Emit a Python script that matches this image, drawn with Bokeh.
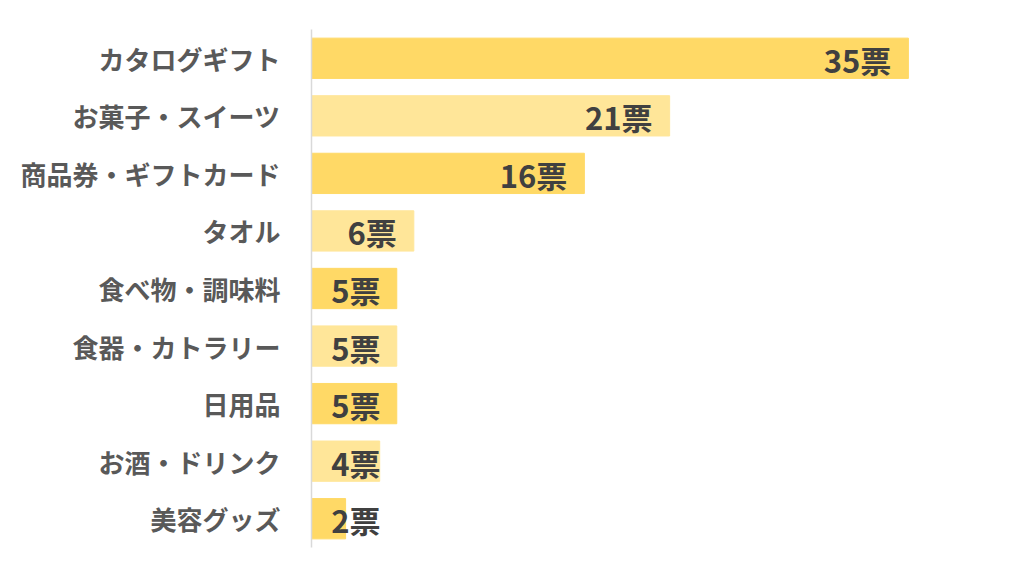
from bokeh.plotting import figure
from bokeh.models import ColumnDataSource, FactorRange, Range1d
from bokeh.core.properties import value
from bokeh.embed import file_html
from bokeh.resources import INLINE

categories = ["カタログギフト", "お菓子・スイーツ", "商品券・ギフトカード", "タオル",
              "食べ物・調味料", "食器・カトラリー", "日用品", "お酒・ドリンク", "美容グッズ"]
votes = [35, 21, 16, 6, 5, 5, 5, 4, 2]
bar_colors = ["#FFD966", "#FFE699"]

colors = [bar_colors[i % 2] for i in range(len(categories))]
labels = [f"{v}票" for v in votes]
label_x = [max(v - 1, 4.05) for v in votes]

src = ColumnDataSource(dict(cat=categories, v=votes, color=colors, lab=labels, lx=label_x))

p = figure(width=1024, height=574, output_backend="svg", toolbar_location=None,
           y_range=FactorRange(*reversed(categories), range_padding=0, factor_padding=0),
           x_range=Range1d(0, 40.4),
           min_border_left=311, min_border_right=24, min_border_top=29, min_border_bottom=27)

p.hbar(y="cat", right="v", left=0, height=0.7, color="color", source=src)
p.text(x="lx", y="cat", text="lab", source=src, text_align="right", text_baseline="middle",
       text_font=value("Noto Sans CJK JP"), text_font_style="bold", text_font_size="31px",
       text_color="#404040", y_offset=1)

p.xaxis.visible = False
p.xgrid.visible = False
p.ygrid.visible = False
p.outline_line_color = None
yax = p.yaxis[0]
yax.axis_line_color = "#D9D9D9"
yax.axis_line_width = 1.5
yax.major_tick_line_color = None
yax.minor_tick_line_color = None
yax.major_tick_out = 0
yax.major_tick_in = 0
yax.major_label_standoff = 31
yax.major_label_text_font = "Noto Sans CJK JP"
yax.major_label_text_font_style = "bold"
yax.major_label_text_font_size = "26px"
yax.major_label_text_color = "#595959"

open("out.html", "w").write(file_html(p, INLINE))
